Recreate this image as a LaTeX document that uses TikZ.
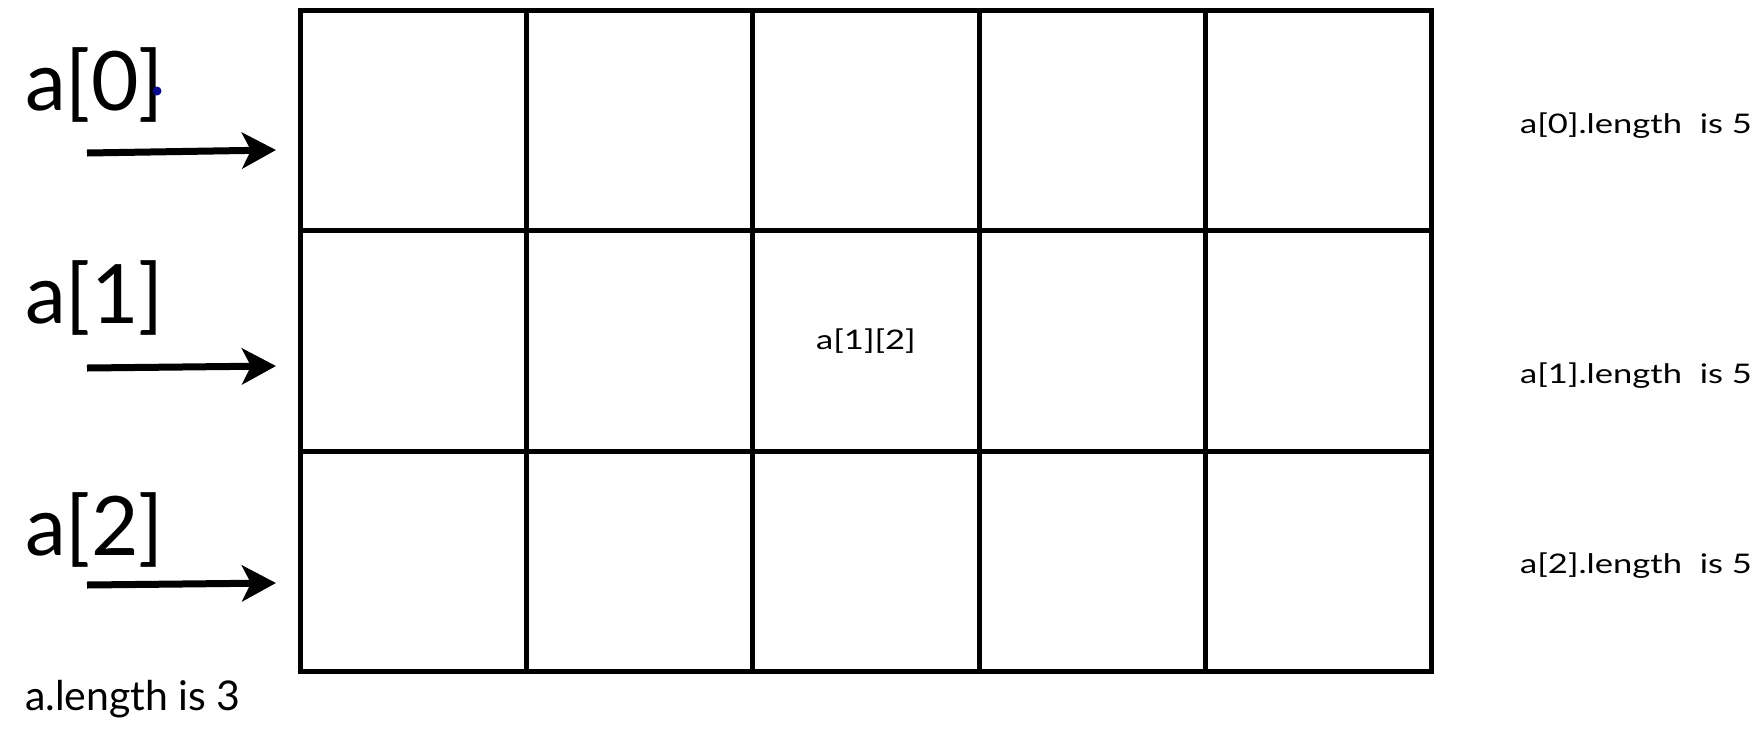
\documentclass[tikz,border=0pt]{standalone}
\usepackage{fontspec}
\setmainfont{Lato}
\newfontfamily\widefont[FakeStretch=1.28]{Lato}
\usetikzlibrary{arrows.meta}
\definecolor{dotblue}{RGB}{10,10,140}
\begin{document}
\begin{tikzpicture}[x=1pt,y=-1pt,
  cell/.style={draw, line width=5pt, minimum width=226.2pt, minimum height=220.3pt, inner sep=0pt, anchor=north west},
  biglabel/.style={anchor=base west, inner sep=0pt, font=\fontsize{82}{90}\selectfont},
  lenlabel/.style={anchor=base west, inner sep=0pt, font=\widefont\fontsize{27}{30}\selectfont},
  ptr/.style={line width=7pt, -{Stealth[length=34pt,width=36pt,inset=9pt]}}]
\useasboundingbox[fill=white] (0,0) rectangle (1762,729);
\foreach \r in {0,1,2}{
  \foreach \c in {0,...,4}{
    \node[cell] (c\r\c) at ({298+\c*226.2},{8+\r*220.3}) {};
  }
}
\node at (c12.center) [font=\widefont\fontsize{27}{30}\selectfont] (elem) {a[1][2]};
\node[biglabel] (l0) at (25,110) {a[0]};
\node[biglabel] (l1) at (25,323) {a[1]};
\node[biglabel] (l2) at (25,555) {a[2]};
\fill[dotblue] (157,91) circle (4.5pt);
\coordinate (t0) at (87,153); \coordinate (h0) at (276,150);
\coordinate (t1) at (87,368); \coordinate (h1) at (276,366);
\coordinate (t2) at (87,585); \coordinate (h2) at (276,583);
\draw[ptr] (t0) -- (h0);
\draw[ptr] (t1) -- (h1);
\draw[ptr] (t2) -- (h2);
\node[lenlabel] (r0) at (1520,133) {a[0].length\ \ is 5};
\node[lenlabel] (r1) at (1520,383) {a[1].length\ \ is 5};
\node[lenlabel] (r2) at (1520,573) {a[2].length\ \ is 5};
\node[anchor=base west, inner sep=0pt, font=\fontsize{41}{46}\selectfont] (alen) at (25,710) {a.length is 3};
\end{tikzpicture}
\end{document}
